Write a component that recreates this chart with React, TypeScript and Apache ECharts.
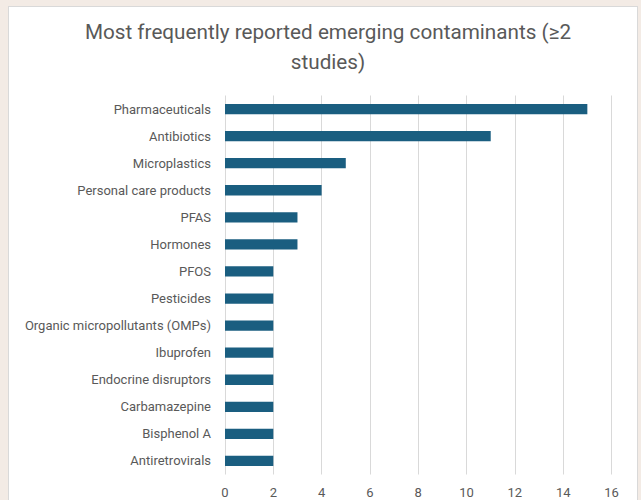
import React, { useEffect, useRef } from "react";
import * as echarts from "echarts";

const categories = [
  "Pharmaceuticals",
  "Antibiotics",
  "Microplastics",
  "Personal care products",
  "PFAS",
  "Hormones",
  "PFOS",
  "Pesticides",
  "Organic micropollutants (OMPs)",
  "Ibuprofen",
  "Endocrine disruptors",
  "Carbamazepine",
  "Bisphenol A",
  "Antiretrovirals",
];
const studies = [15, 11, 5, 4, 3, 3, 2, 2, 2, 2, 2, 2, 2, 2];
const titleText = "Most frequently reported emerging contaminants (≥2\nstudies)";

const TITLE_FONT = 'Roboto, "Noto Sans", sans-serif';
const FONT = 'Roboto, "Noto Sans", sans-serif';

export default function App() {
  const ref = useRef<HTMLDivElement>(null);
  useEffect(() => {
    document.body.style.margin = "0";
    const chart = echarts.init(ref.current!, null, { renderer: "svg" });
    chart.setOption({
      animation: false,
      title: {
        text: titleText,
        left: 323,
        top: 12,
        textAlign: "center",
        textStyle: {
          fontFamily: TITLE_FONT,
          fontSize: 20.7,
          fontWeight: "normal",
          color: "#595959",
          lineHeight: 30,
        },
      },
      grid: { left: 225, right: 29.5, top: 95.5, bottom: 25.5, containLabel: false },
      xAxis: {
        type: "value",
        min: 0,
        max: 16,
        interval: 2,
        axisLine: { show: false },
        axisTick: { show: false },
        splitLine: { show: true, lineStyle: { color: "#d9d9d9", width: 1 } },
        axisLabel: { color: "#595959", fontFamily: FONT, fontSize: 13, margin: 11 },
      },
      yAxis: {
        type: "category",
        data: categories,
        inverse: true,
        axisLine: { show: false },
        axisTick: { show: false },
        axisLabel: { color: "#595959", fontFamily: FONT, fontSize: 13, margin: 14 },
      },
      series: [
        {
          type: "bar",
          data: studies,
          barCategoryGap: "62%",
          itemStyle: { color: "#1a5e80" },
        },
      ],
    });
    return () => chart.dispose();
  }, []);
  return (
    <div style={{ position: "fixed", left: 0, top: 0, width: 641, height: 500, background: "#f3ebe5", overflow: "hidden" }}>
      <div
        style={{
          position: "absolute",
          left: 8,
          top: 6,
          width: 628,
          height: 520,
          background: "#ffffff",
          border: "1px solid #d9d9d9",
        }}
      />
      <div ref={ref} style={{ position: "absolute", left: 0, top: 0, width: 641, height: 500 }} />
    </div>
  );
}
